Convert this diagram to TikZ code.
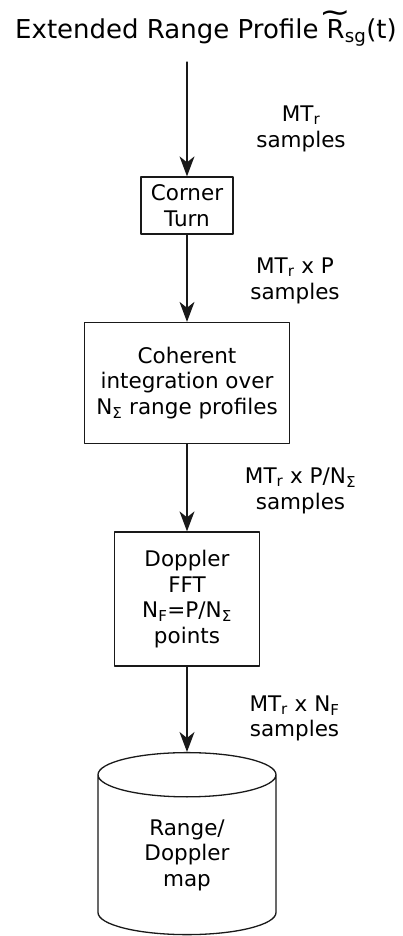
\documentclass[tikz,border=0pt]{standalone}
\usepackage{fontspec}
\usepackage{graphicx}
\setmainfont{DejaVu Sans}
\usetikzlibrary{arrows.meta,shapes.geometric}
\newcommand\tilR{\leavevmode\setbox0\hbox{R}%
	\rlap{\raisebox{0.62em}{\makebox[\wd0]{\scalebox{1.45}[1.15]{\char"7E}}}}R}

\begin{document}
\begin{tikzpicture}[x=1pt,y=-1pt,line join=round,line cap=round,
	font=\fontsize{21.5}{25.5}\selectfont,
	>={Stealth[length=20pt,width=15pt,inset=6pt]},
	proc/.style={draw=black!90,line width=1.3pt,align=center,inner sep=0pt},
	lbl/.style={align=center,inner sep=0pt},
	flow/.style={->,line width=1.3pt,draw=black!90}]
	\useasboundingbox (0,0) rectangle (402,936);
	\def\xm{187}
	\node[anchor=base,font=\fontsize{26}{30}\selectfont] (title) at (206,39)
		{Extended Range Profile \tilR\textsubscript{sg}(t)};
	\coordinate (in) at (\xm,62);
	\node[proc,minimum width=92pt,minimum height=57pt] (corner) at (\xm,205.5) {Corner\\Turn};
	\node[proc,minimum width=205pt,minimum height=121pt] (coherent) at (\xm,383)
		{Coherent\\integration over\\N\textsubscript{Σ} range profiles};
	\node[proc,minimum width=145pt,minimum height=134pt] (doppler) at (\xm,599)
		{Doppler\\FFT\\N\textsubscript{F}=P/N\textsubscript{Σ}\\points};
	\node[proc,cylinder,shape border rotate=90,aspect=0.52,minimum width=178pt,
		minimum height=182pt] (rdmap) at (\xm,855) {Range/\\Doppler\\map};
	% sample counts between the stages
	\node[lbl] (ns1) at (301,129) {MT\textsubscript{r}\\samples};
	\node[lbl] (ns2) at (295,281) {MT\textsubscript{r} x P\\samples};
	\node[lbl] (ns3) at (300.5,491) {MT\textsubscript{r} x P/N\textsubscript{Σ}\\samples};
	\node[lbl] (ns4) at (294.5,718.5) {MT\textsubscript{r} x N\textsubscript{F}\\samples};
	\draw[flow] (in) -- (corner);
	\draw[flow] (corner) -- (coherent);
	\draw[flow] (coherent) -- (doppler);
	\draw[flow] (doppler) -- (rdmap);
\end{tikzpicture}
\end{document}
